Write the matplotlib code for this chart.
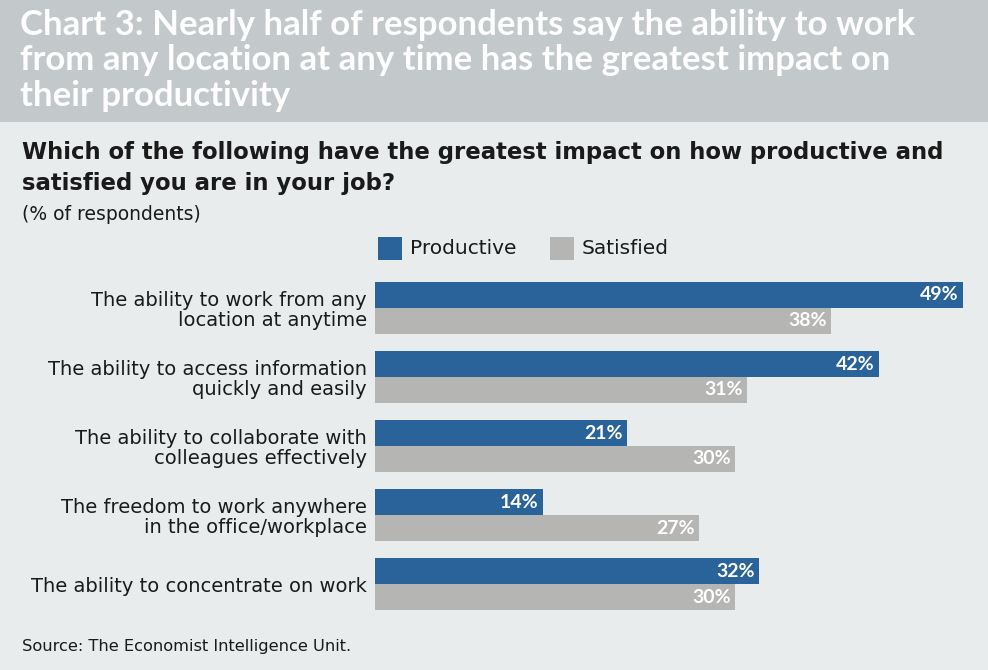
import matplotlib.pyplot as plt
import numpy as np
from matplotlib.patches import Rectangle

# data
categories = [
    'The ability to work from any\nlocation at anytime',
    'The ability to access information\nquickly and easily',
    'The ability to collaborate with\ncolleagues effectively',
    'The freedom to work anywhere\nin the office/workplace',
    'The ability to concentrate on work',
]
productive = [49, 42, 21, 14, 32]
satisfied = [38, 31, 30, 27, 30]

BLUE = '#2a6399'
GREY = '#b5b5b3'
HEAD = '#c3c9cb'
BODY = '#e8ecec'
INK = '#1a1a1a'

plt.rcParams['font.family'] = ['DejaVu Sans']

W, H = 988, 670
fig = plt.figure(figsize=(W / 100, H / 100), dpi=100)
fig.patch.set_facecolor(BODY)

def fx(px):
    return px / W

def fy(py):
    return 1 - py / H

# header band
fig.patches.append(Rectangle((0, fy(122)), 1, 1 - fy(122), transform=fig.transFigure,
                             facecolor=HEAD, edgecolor='none', zorder=0))
fig.text(fx(20), fy(9), 'Chart 3: Nearly half of respondents say the ability to work\n'
         'from any location at any time has the greatest impact on\ntheir productivity',
         color='white', fontsize=25, fontweight='bold', va='top', ha='left',
         linespacing=1.13, family='Lato')

fig.text(fx(22), fy(141), 'Which of the following have the greatest impact on how productive and\n'
         'satisfied you are in your job?', color=INK, fontsize=16.4, fontweight='bold',
         va='top', ha='left', linespacing=1.42)
fig.text(fx(22), fy(214), '(% of respondents)', color=INK, fontsize=13.5, va='center', ha='left')
fig.text(fx(22), fy(647), 'Source: The Economist Intelligence Unit.', color=INK, fontsize=11.7,
         va='center', ha='left')

# bars
top, bot = 282, 610
ax = fig.add_axes([fx(375), fy(bot), 1 - fx(375), (bot - top) / H])
ax.set_facecolor('none')
h = 26 / 69.5
y = np.arange(len(categories))
ax.barh(y - h / 2, productive, height=h, color=BLUE, label='Productive')
ax.barh(y + h / 2, satisfied, height=h, color=GREY, label='Satisfied')
ax.set_xlim(0, 613 / 12)
ax.set_ylim(len(categories) - 1 + h, -h)
for i in range(len(categories)):
    ax.text(productive[i] - 0.35, y[i] - h / 2, f'{productive[i]}%', color='white',
            fontsize=14, fontweight='bold', ha='right', va='center', family='Lato')
    ax.text(satisfied[i] - 0.35, y[i] + h / 2, f'{satisfied[i]}%', color='white',
            fontsize=14, fontweight='bold', ha='right', va='center', family='Lato')
ax.set_yticks(y)
ax.set_yticklabels(categories, fontsize=14, color=INK, linespacing=1.05)
ax.tick_params(axis='y', length=0, pad=6)
ax.set_xticks([])
for s in ax.spines.values():
    s.set_visible(False)

# legend
fig.patches.append(Rectangle((fx(378), fy(260)), fx(24), 23 / H, transform=fig.transFigure,
                             facecolor=BLUE, edgecolor='none'))
fig.text(fx(410), fy(248), 'Productive', fontsize=14.5, color=INK, va='center', ha='left')
fig.patches.append(Rectangle((fx(550), fy(260)), fx(24), 23 / H, transform=fig.transFigure,
                             facecolor=GREY, edgecolor='none'))
fig.text(fx(582), fy(248), 'Satisfied', fontsize=14.5, color=INK, va='center', ha='left')

fig.savefig('out.png', dpi=100, facecolor=BODY)
